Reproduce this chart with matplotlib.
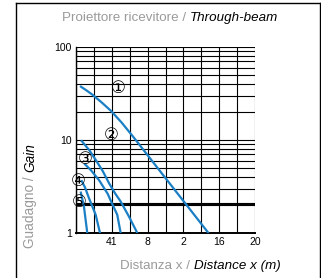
import numpy as np
import matplotlib
matplotlib.use('Agg')
from matplotlib import pyplot as plt
from matplotlib.lines import Line2D

# data
c1_x = [0.45, 1.2, 1.93, 2.9, 3.9, 5.1, 6.4, 8.27, 9.94, 12.18, 14.8]
c1_y = [38, 34.0, 30.2, 25.2, 20.6, 15.4, 10.8, 6.36, 3.96, 2.1, 1.0]
c2_x = [0.56, 1.49, 2.23, 2.98, 3.72, 4.39, 4.99, 5.92, 6.85]
c2_y = [9.95, 7.76, 6.05, 4.65, 3.39, 2.65, 2.18, 1.5, 1.0]
c3_x = [0.93, 1.68, 2.6, 3.54, 4.0, 4.61, 4.99]
c3_y = [5.57, 4.72, 3.67, 2.64, 2.1, 1.57, 1.0]
c4_x = [0.59, 1.0, 1.45, 2.2, 2.68]
c4_y = [3.7, 3.1, 2.37, 1.57, 1.0]
c5_x = [0.52, 0.89, 1.26]
c5_y = [2.79, 1.92, 1.0]

labels = ['\u2460', '\u2461', '\u2462', '\u2463', '\u2464']
label_x = [4.75, 3.95, 1.08, 0.22, 0.37]
label_y = [35.8, 11.3, 6.3, 3.6, 2.13]

xtick_pos = [4, 8, 12, 16, 20]
xtick_lab = ['41', '8', '2', '16', '20']

blue = '#1a7fc4'
grey = '#9a9a9a'
fam = ['Liberation Sans Narrow', 'Liberation Sans', 'DejaVu Sans']

fig = plt.figure(figsize=(3.21, 2.78), dpi=100)
ax = fig.add_axes([76/321, 1-233/278, 179/321, 186/278])

ax.set_xlim(0, 20)
ax.set_ylim(1, 100)
ax.set_yscale('log')

# grid
for gx in np.arange(0, 21, 2):
    ax.axvline(gx, color='black', lw=0.8, zorder=1)
for dec in [1, 10]:
    for m in range(1, 10):
        ax.axhline(dec*m, color='black', lw=0.8, zorder=1)
ax.axhline(2, color='black', lw=1.4, zorder=1)
ax.axhline(2.12, color='black', lw=0.8, zorder=1)
ax.axhline(100, color='black', lw=0.8, zorder=1)

for xs, ys in [(c1_x, c1_y), (c2_x, c2_y), (c3_x, c3_y), (c4_x, c4_y), (c5_x, c5_y)]:
    ax.plot(xs, ys, color=blue, lw=1.6, zorder=3, solid_capstyle='butt',
            solid_joinstyle='round')

for t, lx, ly in zip(labels, label_x, label_y):
    ax.text(lx, ly, t, fontsize=12, ha='center', va='center', color='black',
            family='DejaVu Sans', zorder=4)

for s in ['top', 'right']:
    ax.spines[s].set_visible(False)
ax.spines['left'].set_linewidth(1.0)
ax.spines['bottom'].set_linewidth(1.4)

ax.set_xticks(xtick_pos)
ax.set_xticklabels(xtick_lab)
ax.set_yticks([1, 10, 100])
ax.set_yticklabels(['1', '10', '100'])
ax.yaxis.set_minor_locator(matplotlib.ticker.NullLocator())
ax.tick_params(length=0, labelsize=7.5, pad=3)
for lab in ax.get_xticklabels() + ax.get_yticklabels():
    lab.set_family(fam)

# titles with two styles
fig.text(186/321, 1-18/278, 'Proiettore ricevitore /', color=grey, fontsize=9.6,
         ha='right', va='center', family=fam)
fig.text(190/321, 1-18/278, 'Through-beam', color='black', fontsize=9.6,
         ha='left', va='center', style='italic', family=fam)
fig.text(190/321, 1-266/278, 'Distanza x /', color=grey, fontsize=9.6,
         ha='right', va='center', family=fam)
fig.text(194/321, 1-266/278, 'Distance x (m)', color='black', fontsize=9.6,
         ha='left', va='center', style='italic', family=fam)
fig.text(30/321, 1-176/278, 'Guadagno /', color=grey, fontsize=9.8, rotation=90,
         ha='center', va='top', family=fam)
fig.text(30/321, 1-172/278, 'Gain', color='black', fontsize=9.8, rotation=90,
         ha='center', va='bottom', style='italic', family=fam)

# frame around the figure
fig.add_artist(Line2D([16/321, 16/321], [0, 1-3/278], color='black', lw=1.0))
fig.add_artist(Line2D([16/321, 320/321], [1-3/278, 1-3/278], color='black', lw=1.0))
fig.add_artist(Line2D([320/321, 320/321], [0, 1-3/278], color='black', lw=1.0))

fig.savefig('out.png', dpi=100)
